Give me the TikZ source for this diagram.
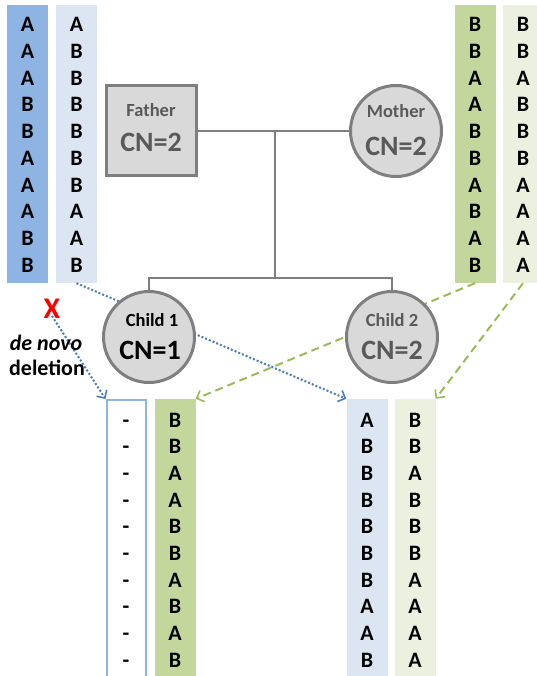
\documentclass[tikz,border=0pt]{standalone}
\usepackage{fontspec}
\setmainfont{Carlito}
\usetikzlibrary{arrows.meta}

\definecolor{alleleBlue}{HTML}{8EB4E3}
\definecolor{alleleBlueLt}{HTML}{DCE6F2}
\definecolor{alleleGreen}{HTML}{C3D69B}
\definecolor{alleleGreenLt}{HTML}{EBF1DE}
\definecolor{pedFill}{HTML}{D9D9D9}
\definecolor{pedLine}{HTML}{7F7F7F}
\definecolor{pedText}{HTML}{595959}
\definecolor{inheritBlue}{HTML}{4A7EBB}
\definecolor{inheritGreen}{HTML}{9BBB59}

\tikzset{
  strand/.style={rectangle, draw=none, inner sep=0pt, minimum width=41pt},
  allele/.style={inner sep=0pt, font=\fontsize{22}{22}\selectfont\bfseries,
                 text height=14pt, text depth=0pt},
  pedline/.style={draw=pedLine, line width=2pt},
  male/.style={rectangle, draw=pedLine, fill=pedFill, line width=3pt,
               minimum size=90pt, inner sep=0pt},
  female/.style={circle, draw=pedLine, fill=pedFill, line width=3pt,
                 minimum size=91pt, inner sep=0pt},
  who/.style={font=\fontsize{18.5}{18.5}\selectfont\bfseries, text=pedText, inner sep=0pt},
  cn/.style={font=\fontsize{28}{28}\selectfont\bfseries, text=pedText, inner sep=0pt},
  fromfather/.style={draw=inheritBlue, line width=2pt, dash pattern=on 2pt off 2pt,
                     -{Straight Barb[length=6pt,width=12pt,line width=1.6pt]}},
  frommother/.style={draw=inheritGreen, line width=2pt, dash pattern=on 8pt off 5pt,
                     -{Straight Barb[length=6pt,width=12pt,line width=1.6pt]}},
}

% place ten alleles down a strand
\newcommand\allelestack[4]{%
  \foreach \t [count=\i from 0] in {#4}
    \node[allele] (#1-\i) at (#2,{#3+26.667*\i}) {\t};}

\begin{document}
\begin{tikzpicture}[x=1pt,y=-1pt]
\useasboundingbox (0,0) rectangle (536,676);

% parental strands
\node[strand, fill=alleleBlue]    (fa1) at (27.5,144) [minimum height=278pt] {};
\node[strand, fill=alleleBlueLt]  (fa2) at (76.5,144) [minimum height=278pt] {};
\node[strand, fill=alleleGreen]   (mo1) at (475,144)  [minimum height=278pt] {};
\node[strand, fill=alleleGreenLt] (mo2) at (523,144)  [minimum height=278pt] {};
\allelestack{fa1}{27.5}{25}{A,A,A,B,B,A,A,A,B,B}
\allelestack{fa2}{76.5}{25}{A,B,B,B,B,B,B,A,A,B}
\allelestack{mo1}{475}{25}{B,B,A,A,B,B,A,B,A,B}
\allelestack{mo2}{523}{25}{B,B,A,B,B,B,A,A,A,A}

% children's strands
\node[strand, draw=alleleBlue, line width=2pt, minimum width=39pt] (c1a) at (126,540) [minimum height=280pt] {};
\node[strand, fill=alleleGreen]   (c1b) at (175,540) [minimum height=282pt] {};
\node[strand, fill=alleleBlueLt]  (c2a) at (367,540) [minimum height=282pt] {};
\node[strand, fill=alleleGreenLt] (c2b) at (415,540) [minimum height=282pt] {};
\allelestack{c1a}{126}{420}{-,-,-,-,-,-,-,-,-,-}
\allelestack{c1b}{175}{420}{B,B,A,A,B,B,A,B,A,B}
\allelestack{c2a}{367}{420}{A,B,B,B,B,B,B,A,A,B}
\allelestack{c2b}{415}{420}{B,B,A,B,B,B,A,A,A,A}

% deletion mark
\node[inner sep=0pt, text=red, font=\fontsize{30}{30}\selectfont\bfseries] (del) at (52,309) {X};

% inheritance arrows (drawn under the pedigree symbols)
\draw[fromfather] (fa2.south) -- (c2a.north west);
\draw[fromfather] ([yshift=3pt]del.south) -- (c1a.north west);
\draw[frommother] (mo1.south) -- (c1b.north east);
\draw[frommother] (mo2.south) -- (c2b.north east);

\node[inner sep=0pt, font=\fontsize{22}{22}\selectfont\bfseries\itshape] (dn) at (46,343) {de novo};
\node[inner sep=0pt, font=\fontsize{22}{22}\selectfont\bfseries] (dl) at (47,368) {deletion};

% pedigree
\coordinate (mate) at (275,131);
\coordinate (sib) at (275,278);
\node[male]   (father) at (151,131) {};
\node[female] (mother) at (396,131) {};
\draw[pedline] (father.east) -- (mother.west);
\draw[pedline] (mate) -- (sib);
\node[female] (child1) at (149,337) {};
\node[female] (child2) at (392,337) {};
\draw[pedline] (child1.north) |- (sib) -| (child2.north);

\node[who] (ft) at (151,110) {Father};
\node[cn]  (fc) at (151,142) {CN=2};
\node[who] (mt) at (396,111) {Mother};
\node[cn]  (mc) at (396,146) {CN=2};
\node[who, text=black] (c1t) at (152,320) {Child 1};
\node[cn,  text=black] (c1c) at (150,350) {CN=1};
\node[who] (c2t) at (392,320) {Child 2};
\node[cn]  (c2c) at (392,350) {CN=2};
\end{tikzpicture}
\end{document}
